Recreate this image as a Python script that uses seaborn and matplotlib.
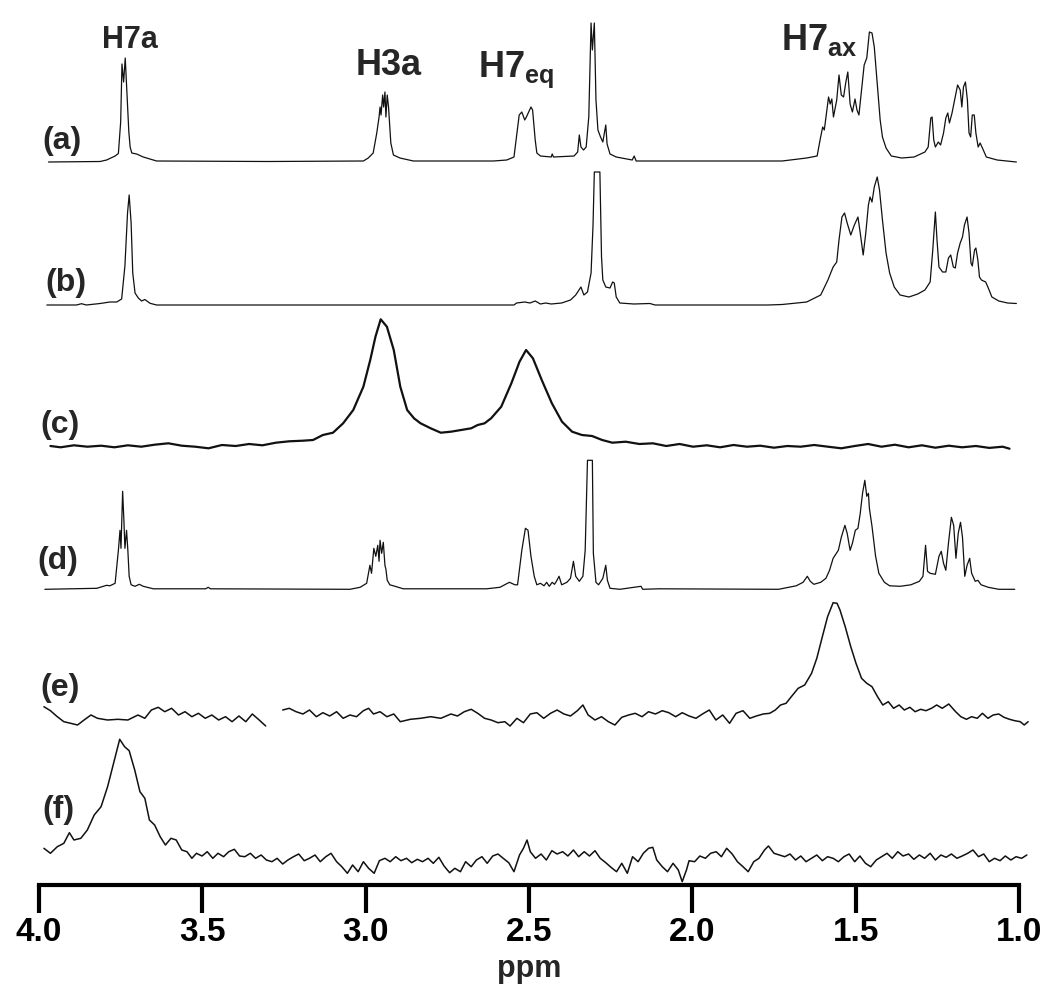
import numpy as np
import pandas as pd
import seaborn as sns
import matplotlib.pyplot as plt

sns.set_style("white")
plt.rcParams['font.family'] = ['Liberation Sans', 'DejaVu Sans']
plt.rcParams['mathtext.fontset'] = 'custom'
plt.rcParams['mathtext.bf'] = 'Liberation Sans:bold'
plt.rcParams['mathtext.rm'] = 'Liberation Sans'

# traced spectra: (ppm, intensity above own baseline)
spec_a = [
    (3.971, 0), (3.813, 0.5), (3.793, 2), (3.767, 6), (3.757, 8.5), (3.750, 40),
    (3.746, 98), (3.741, 80), (3.736, 104), (3.731, 70), (3.725, 30), (3.721, 15),
    (3.716, 9), (3.701, 8), (3.681, 5), (3.640, 1), (3.300, 0.5), (3.007, 1),
    (2.992, 4), (2.977, 9), (2.966, 29), (2.959, 45), (2.956, 55), (2.953, 47),
    (2.948, 67), (2.945, 55), (2.941, 70), (2.938, 45), (2.934, 67), (2.930, 55),
    (2.927, 40), (2.923, 19), (2.915, 7), (2.895, 4), (2.854, 1), (2.793, 1),
    (2.609, 1), (2.568, 2), (2.546, 5), (2.537, 29), (2.530, 47), (2.522, 50),
    (2.513, 42), (2.508, 45), (2.494, 55), (2.489, 52), (2.481, 22), (2.476, 9),
    (2.465, 6), (2.432, 5), (2.429, 8), (2.425, 5), (2.362, 6), (2.351, 10),
    (2.346, 27), (2.341, 15), (2.333, 12), (2.325, 15), (2.317, 45), (2.310, 139),
    (2.306, 112), (2.300, 139), (2.295, 62), (2.289, 32), (2.281, 25), (2.274, 20),
    (2.265, 37), (2.261, 18), (2.252, 8), (2.233, 5), (2.184, 2), (2.178, 6),
    (2.172, 1), (1.725, 1), (1.650, 4), (1.618, 6), (1.609, 22), (1.601, 35),
    (1.596, 32), (1.588, 52), (1.583, 65), (1.578, 58), (1.573, 63), (1.568, 45),
    (1.558, 62), (1.551, 87), (1.544, 67), (1.537, 65), (1.530, 80), (1.524, 90),
    (1.517, 58), (1.510, 50), (1.502, 63), (1.496, 52), (1.490, 47), (1.483, 69),
    (1.474, 97), (1.466, 104), (1.458, 130), (1.450, 129), (1.443, 115), (1.434, 79),
    (1.425, 42), (1.418, 25), (1.407, 14), (1.391, 6), (1.359, 4), (1.321, 5),
    (1.288, 10), (1.278, 15), (1.270, 44), (1.266, 45), (1.261, 22), (1.256, 15),
    (1.247, 20), (1.240, 17), (1.231, 29), (1.224, 44), (1.218, 49), (1.213, 39),
    (1.205, 49), (1.197, 62), (1.188, 77), (1.180, 72), (1.175, 55), (1.170, 75),
    (1.164, 80), (1.158, 62), (1.153, 29), (1.148, 25), (1.143, 47), (1.137, 47),
    (1.132, 29), (1.125, 15), (1.119, 19), (1.112, 14), (1.100, 5), (1.067, 2),
    (1.008, 0),
]

spec_b = [
    (3.976, 0), (3.885, 0), (3.870, 1.3), (3.855, 0), (3.813, 1.5), (3.783, 3),
    (3.762, 3), (3.747, 6), (3.737, 39), (3.729, 92), (3.724, 110), (3.718, 82),
    (3.713, 32), (3.706, 12), (3.696, 7), (3.686, 4), (3.676, 5.5), (3.660, 1.7),
    (3.640, 0), (2.589, 0), (2.546, 0), (2.538, 2), (2.513, 3), (2.497, 2),
    (2.481, 4), (2.465, 1), (2.449, 2), (2.432, 1), (2.400, 2), (2.373, 5),
    (2.357, 10), (2.341, 18), (2.332, 10), (2.321, 13), (2.310, 32), (2.304, 80),
    (2.300, 133), (2.283, 133), (2.278, 48), (2.274, 25), (2.265, 18), (2.252, 17),
    (2.244, 23), (2.239, 22), (2.233, 8), (2.222, 2), (2.179, 1), (2.130, 1.5),
    (2.114, 0), (1.769, 0), (1.725, 0.5), (1.650, 3), (1.607, 10), (1.585, 25),
    (1.569, 38), (1.558, 43), (1.551, 65), (1.542, 88), (1.534, 92), (1.526, 82),
    (1.515, 70), (1.504, 80), (1.493, 88), (1.486, 72), (1.477, 50), (1.469, 72),
    (1.461, 100), (1.456, 108), (1.450, 103), (1.443, 118), (1.434, 128), (1.427, 115),
    (1.418, 85), (1.407, 52), (1.396, 32), (1.382, 18), (1.364, 10), (1.337, 8),
    (1.310, 11), (1.288, 15), (1.272, 23), (1.264, 55), (1.256, 93), (1.251, 65),
    (1.245, 38), (1.234, 33), (1.224, 33), (1.216, 47), (1.209, 50), (1.201, 38),
    (1.195, 37), (1.188, 52), (1.180, 62), (1.173, 68), (1.167, 80), (1.159, 88),
    (1.153, 72), (1.147, 42), (1.143, 39), (1.136, 55), (1.132, 57), (1.126, 45),
    (1.121, 28), (1.115, 25), (1.102, 23), (1.094, 17), (1.083, 8), (1.062, 4),
    (1.035, 2), (1.008, 1.5),
]

spec_c = [
    (3.965, 0.7), (3.934, -0.6), (3.893, 1.4), (3.852, 0), (3.810, 1), (3.769, -0.6),
    (3.728, 1.4), (3.687, 0), (3.646, 2), (3.604, 3.4), (3.563, 1), (3.522, 0),
    (3.481, -1.6), (3.440, 1.7), (3.398, 0.7), (3.357, 2.7), (3.316, 1.4), (3.275, 4),
    (3.234, 5.4), (3.192, 6), (3.161, 6.7), (3.131, 11.7), (3.100, 14), (3.069, 23.4),
    (3.038, 36.7), (3.007, 60), (2.986, 86.7), (2.970, 110), (2.954, 127.4), (2.935, 120),
    (2.914, 96.7), (2.894, 60), (2.873, 36.7), (2.852, 28.4), (2.832, 23.4), (2.801, 18.4),
    (2.770, 14), (2.739, 15), (2.708, 16.7), (2.677, 18.4), (2.657, 21.7), (2.636, 23.4),
    (2.616, 28.4), (2.585, 40), (2.554, 63.4), (2.529, 85), (2.509, 96.7), (2.488, 88.4),
    (2.461, 66.7), (2.430, 43.4), (2.399, 25), (2.368, 15), (2.338, 11.7), (2.307, 10.7),
    (2.276, 6.7), (2.245, 4), (2.204, 5), (2.162, 2.7), (2.121, 3.4), (2.080, 0.7),
    (2.039, 2.7), (1.998, 0), (1.956, 1.4), (1.915, -0.6), (1.874, 1.7), (1.833, 0),
    (1.792, 1), (1.750, -1), (1.709, 0.7), (1.668, 0), (1.627, 1.7), (1.585, 0),
    (1.544, -1.6), (1.503, 0.7), (1.462, 2.7), (1.421, 0), (1.380, 2), (1.338, -0.6),
    (1.297, 1.4), (1.256, -1), (1.215, 1), (1.174, -0.6), (1.132, 0.7), (1.091, -1.2),
    (1.050, 0), (1.029, -2),
]

spec_d = [
    (3.982, 0), (3.823, 1), (3.793, 4), (3.783, 3.5), (3.767, 6), (3.757, 39),
    (3.752, 59), (3.749, 41), (3.744, 98), (3.740, 68), (3.737, 41), (3.732, 59),
    (3.728, 39), (3.724, 13), (3.718, 4.5), (3.706, 3), (3.693, 5), (3.681, 3),
    (3.650, 0.5), (3.490, 0.5), (3.482, 2), (3.475, 0.5), (3.048, 0), (3.017, 2),
    (2.997, 6), (2.987, 24), (2.982, 16), (2.975, 41), (2.969, 33), (2.963, 44),
    (2.959, 28), (2.956, 49), (2.951, 36), (2.946, 47), (2.941, 24), (2.938, 20),
    (2.934, 9), (2.926, 4.5), (2.910, 3), (2.885, 0.5), (2.630, 0.5), (2.589, 2),
    (2.560, 7), (2.543, 4.5), (2.535, 4.5), (2.522, 39), (2.511, 61), (2.503, 59),
    (2.494, 33), (2.484, 13), (2.476, 4.5), (2.465, 6), (2.454, 3.5), (2.446, 7),
    (2.438, 3), (2.429, 7), (2.422, 5), (2.416, 8), (2.408, 13), (2.400, 4.5),
    (2.384, 7), (2.373, 11), (2.364, 28), (2.357, 13), (2.346, 8), (2.335, 13),
    (2.328, 39), (2.321, 129), (2.306, 129), (2.303, 36), (2.295, 7), (2.287, 4.5),
    (2.274, 11), (2.265, 24), (2.260, 9), (2.252, 1), (2.222, 0), (2.157, 3),
    (2.152, 0), (2.103, 0.5), (1.736, 0), (1.682, 3.5), (1.661, 7), (1.648, 13),
    (1.639, 8), (1.628, 5), (1.607, 7), (1.591, 11), (1.580, 19), (1.569, 31),
    (1.553, 39), (1.544, 52), (1.533, 64), (1.526, 56), (1.517, 39), (1.510, 46),
    (1.501, 59), (1.493, 61), (1.486, 76), (1.479, 96), (1.472, 109), (1.466, 93),
    (1.461, 96), (1.458, 81), (1.450, 63), (1.439, 33), (1.429, 16), (1.412, 7),
    (1.396, 3.5), (1.364, 3), (1.331, 4.5), (1.305, 8), (1.294, 13), (1.286, 44),
    (1.280, 18), (1.272, 16), (1.256, 15), (1.245, 33), (1.238, 38), (1.231, 26),
    (1.224, 19), (1.216, 46), (1.207, 72), (1.200, 64), (1.193, 31), (1.186, 56),
    (1.179, 67), (1.173, 52), (1.166, 13), (1.159, 24), (1.151, 31), (1.145, 16),
    (1.134, 8), (1.126, 9), (1.116, 4.5), (1.094, 2), (1.062, 0), (1.013, 0),
]

spec_e = [
    (3.985, 13.3), (3.965, 9.3), (3.944, 3.3), (3.924, -1.7), (3.903, -3.3), (3.882, -5),
    (3.862, 0), (3.841, 5), (3.821, 1.7), (3.790, 0), (3.759, 0.7), (3.728, 0),
    (3.697, 5), (3.676, 1.7), (3.656, 10), (3.635, 12.7), (3.615, 8.3), (3.594, 11.7),
    (3.573, 5), (3.553, 8.3), (3.532, 3.3), (3.512, 6.7), (3.491, 1.7), (3.471, 5),
    (3.450, 0), (3.429, 3.3), (3.409, -1.7), (3.388, 4), (3.367, -1.7), (3.347, 6),
    (3.326, 0), (3.306, -6), (3.280, np.nan),
    (3.254, 10), (3.234, 11.7), (3.213, 8.3), (3.192, 6), (3.172, 10), (3.151, 3.3),
    (3.131, 7.3), (3.110, 4), (3.089, 8.3), (3.069, 1.7), (3.048, 5), (3.028, 3.3),
    (3.007, 9.3), (2.991, 11.7), (2.976, 6), (2.956, 8.3), (2.935, 3.3), (2.914, 6),
    (2.894, -1.7), (2.863, 0.7), (2.832, 1.7), (2.801, 3.3), (2.770, 1.7), (2.739, 6),
    (2.719, 4), (2.698, 8.3), (2.677, 10.7), (2.657, 6.7), (2.636, 1.7), (2.616, 0),
    (2.595, -2.7), (2.574, -1.7), (2.558, -6), (2.537, 1.7), (2.517, -2.7), (2.496, 6),
    (2.476, 7.3), (2.455, 1.7), (2.434, 6.7), (2.414, 10), (2.393, 6), (2.373, 4),
    (2.352, 9.3), (2.335, 15), (2.319, 5), (2.298, 0), (2.278, 3.3), (2.257, -1.7),
    (2.237, -5), (2.216, 2.7), (2.195, 5), (2.175, 6.7), (2.154, 3.3), (2.134, 8.3),
    (2.113, 6), (2.092, 9.3), (2.072, 7.3), (2.051, 3.3), (2.031, 7.3), (2.010, 4),
    (1.989, 1.7), (1.969, 6), (1.948, 10), (1.928, 0), (1.907, 5), (1.886, -3.3),
    (1.866, 6.7), (1.845, 9.3), (1.824, 1.7), (1.804, 4), (1.783, 6), (1.763, 6.7),
    (1.746, 10), (1.730, 15), (1.713, 16.7), (1.697, 23.3), (1.676, 31.7), (1.656, 35),
    (1.635, 46.7), (1.619, 61.7), (1.602, 83.3), (1.586, 103.3), (1.569, 117.3),
    (1.557, 116.7), (1.548, 110), (1.532, 93.3), (1.515, 73.3), (1.499, 56.7),
    (1.482, 41.7), (1.466, 36.7), (1.450, 33.3), (1.433, 23.3), (1.417, 15), (1.400, 18.3),
    (1.384, 11.7), (1.367, 15), (1.351, 10), (1.334, 12.7), (1.318, 8.3), (1.301, 10.7),
    (1.285, 9.3), (1.268, 11.7), (1.252, 15), (1.235, 11.7), (1.215, 16), (1.194, 8.3),
    (1.178, 3.3), (1.161, 0.7), (1.145, 3.3), (1.128, 1.7), (1.112, 6.7), (1.095, 1.7),
    (1.079, 5), (1.062, 6), (1.046, 2.7), (1.029, 0.7), (1.013, -0.7), (0.996, -1.7),
    (0.984, -5), (0.972, -1.7),
]

spec_f = [
    (3.985, 11.7), (3.965, 6.7), (3.944, 13.3), (3.924, 16.7), (3.907, 27.3), (3.893, 20),
    (3.872, 21.7), (3.852, 30), (3.831, 45), (3.810, 53.3), (3.790, 73.3), (3.769, 100),
    (3.753, 120.7), (3.738, 113.3), (3.724, 109.3), (3.707, 90), (3.691, 68.3), (3.676, 61.7),
    (3.662, 40), (3.646, 35), (3.629, 23.3), (3.613, 15), (3.596, 21.7), (3.580, 20),
    (3.563, 10), (3.547, 8.3), (3.532, 1.7), (3.518, 6.7), (3.501, 4), (3.485, 8.3),
    (3.468, 1.7), (3.452, 6.7), (3.435, 3.3), (3.419, 8.3), (3.402, 10.7), (3.386, 4),
    (3.370, 3.3), (3.353, 6.7), (3.337, 1.7), (3.320, 5), (3.304, 0), (3.287, -1.7),
    (3.271, 1.7), (3.254, -4), (3.238, 0), (3.221, 3.3), (3.205, 6), (3.188, -0.7),
    (3.172, 1.7), (3.155, 5), (3.139, -1.7), (3.122, 3.3), (3.106, 6.7), (3.089, -1.7),
    (3.073, -6.7), (3.056, -13.3), (3.040, -5), (3.023, -11.7), (3.007, -1.7), (2.991, -8.3),
    (2.974, -13.3), (2.958, -0.7), (2.941, 1.7), (2.925, -1.7), (2.908, 3.3), (2.892, -0.7),
    (2.875, 1.7), (2.859, -2.7), (2.842, 0.7), (2.826, -1.7), (2.809, 1.7), (2.793, -3.3),
    (2.776, 2.7), (2.760, -6), (2.743, -12.7), (2.727, -8.3), (2.710, -11.7), (2.694, -1.7),
    (2.677, -6.7), (2.661, 0), (2.644, 3.3), (2.628, -3.3), (2.611, 4), (2.595, 6),
    (2.579, 1.7), (2.562, -2.7), (2.546, -11.7), (2.529, 5), (2.517, 11.7), (2.506, 20),
    (2.496, 8.3), (2.480, 1.7), (2.463, 6), (2.447, 0), (2.430, 9.3), (2.414, 6),
    (2.397, 8.3), (2.381, 4), (2.364, 10), (2.348, 3.3), (2.331, 8.3), (2.315, 4),
    (2.298, 9.3), (2.282, 1.7), (2.265, -2.7), (2.249, -7.3), (2.232, -11.7), (2.216, -3.3),
    (2.199, -13.3), (2.183, 3.3), (2.166, -1.7), (2.150, 6.7), (2.134, 11.7), (2.121, 12.7),
    (2.109, 0), (2.092, -6.7), (2.076, -11.7), (2.059, -3.3), (2.043, -10), (2.031, -21.7),
    (2.018, -10), (2.010, -0.7), (1.993, -1.7), (1.977, 4), (1.960, 1.7), (1.944, 6.7),
    (1.927, 8.3), (1.911, 3.3), (1.895, 11.7), (1.878, 6), (1.862, -1.7), (1.845, -6.7),
    (1.829, -11.7), (1.812, -1.7), (1.796, 1.7), (1.779, 10), (1.767, 14), (1.750, 6.7),
    (1.734, 5), (1.717, 3.3), (1.701, 6), (1.684, 0), (1.668, 4), (1.652, -1.7),
    (1.635, 1.7), (1.619, 5), (1.602, -0.7), (1.586, 3.3), (1.569, 1.7), (1.553, -1.7),
    (1.536, 3.3), (1.520, 6), (1.503, -1.7), (1.487, 4), (1.470, -3.3), (1.454, -6.7),
    (1.437, 0), (1.421, 3.3), (1.404, 6.7), (1.388, 1.7), (1.371, 8.3), (1.355, 4),
    (1.338, 6), (1.322, 0.7), (1.305, 5), (1.289, 1.7), (1.272, 6.7), (1.256, 0),
    (1.239, 5), (1.223, 2.7), (1.207, 6), (1.190, 1.7), (1.174, 4), (1.157, 6.7),
    (1.141, 10), (1.124, 3.3), (1.108, 6), (1.091, -1.7), (1.075, 1.7), (1.058, -0.7),
    (1.042, 4), (1.025, 0), (1.009, 3.3), (0.992, 1.7), (0.976, 5),
]

panel_names = ['(a)', '(b)', '(c)', '(d)', '(e)', '(f)']
tick_values = [4.0, 3.5, 3.0, 2.5, 2.0, 1.5, 1.0]

# layout (figure pixels measured from the top, axis spine at 885)
spectra = [spec_a, spec_b, spec_c, spec_d, spec_e, spec_f]
baselines_px = [162, 305, 446.7, 589.3, 720, 860]
widths = [0.9, 0.9, 1.6, 0.9, 1.1, 1.1]
label_pos = [(3.991, 744), (3.982, 602), (3.997, 460), (4.006, 324), (3.997, 197), (3.991, 75)]
ink = '#111111'

fig = plt.figure(figsize=(10.5, 9.94), dpi=100)
ax = fig.add_axes([39 / 1050, 109 / 994, 980 / 1050, 885 / 994])

for pairs, base, lw in zip(spectra, baselines_px, widths):
    df = pd.DataFrame(pairs, columns=['ppm', 'intensity'])
    df['seg'] = df['intensity'].isna().cumsum()
    df = df.dropna()
    df['y'] = df['intensity'] + (885 - base)
    sns.lineplot(data=df, x='ppm', y='y', units='seg', estimator=None, sort=False,
                 color=ink, lw=lw, ax=ax, clip_on=False, solid_joinstyle='round')

ax.set_xlim(4.0, 1.0)
ax.set_ylim(0, 885)
sns.despine(ax=ax, left=True)
ax.spines['bottom'].set_linewidth(3)
ax.spines['bottom'].set_color('black')
ax.set_yticks([])
ax.set_ylabel('')
ax.set_xticks(tick_values)
ax.set_xticklabels([f'{t:.1f}' for t in tick_values], fontweight='bold', fontsize=24)
ax.tick_params(axis='x', bottom=True, direction='out', length=20, width=3, pad=3,
               colors='black')
ax.set_xlabel('ppm', fontsize=22, fontweight='bold', labelpad=4)

# peak assignments
ax.text(3.721, 837, 'H7a', ha='center', va='baseline', fontsize=22, fontweight='bold')
ax.text(2.929, 810, 'H3a', ha='center', va='baseline', fontsize=26, fontweight='bold')
ax.text(2.656, 808, r'$\mathbf{H7}_{\mathbf{eq}}$', ha='left', va='baseline', fontsize=26)
ax.text(1.729, 835, r'$\mathbf{H7}_{\mathbf{ax}}$', ha='left', va='baseline', fontsize=26)

for name, (x, y) in zip(panel_names, label_pos):
    ax.text(x, y, name, ha='left', va='center', fontsize=23, fontweight='bold')

fig.savefig('out.png', dpi=100)
